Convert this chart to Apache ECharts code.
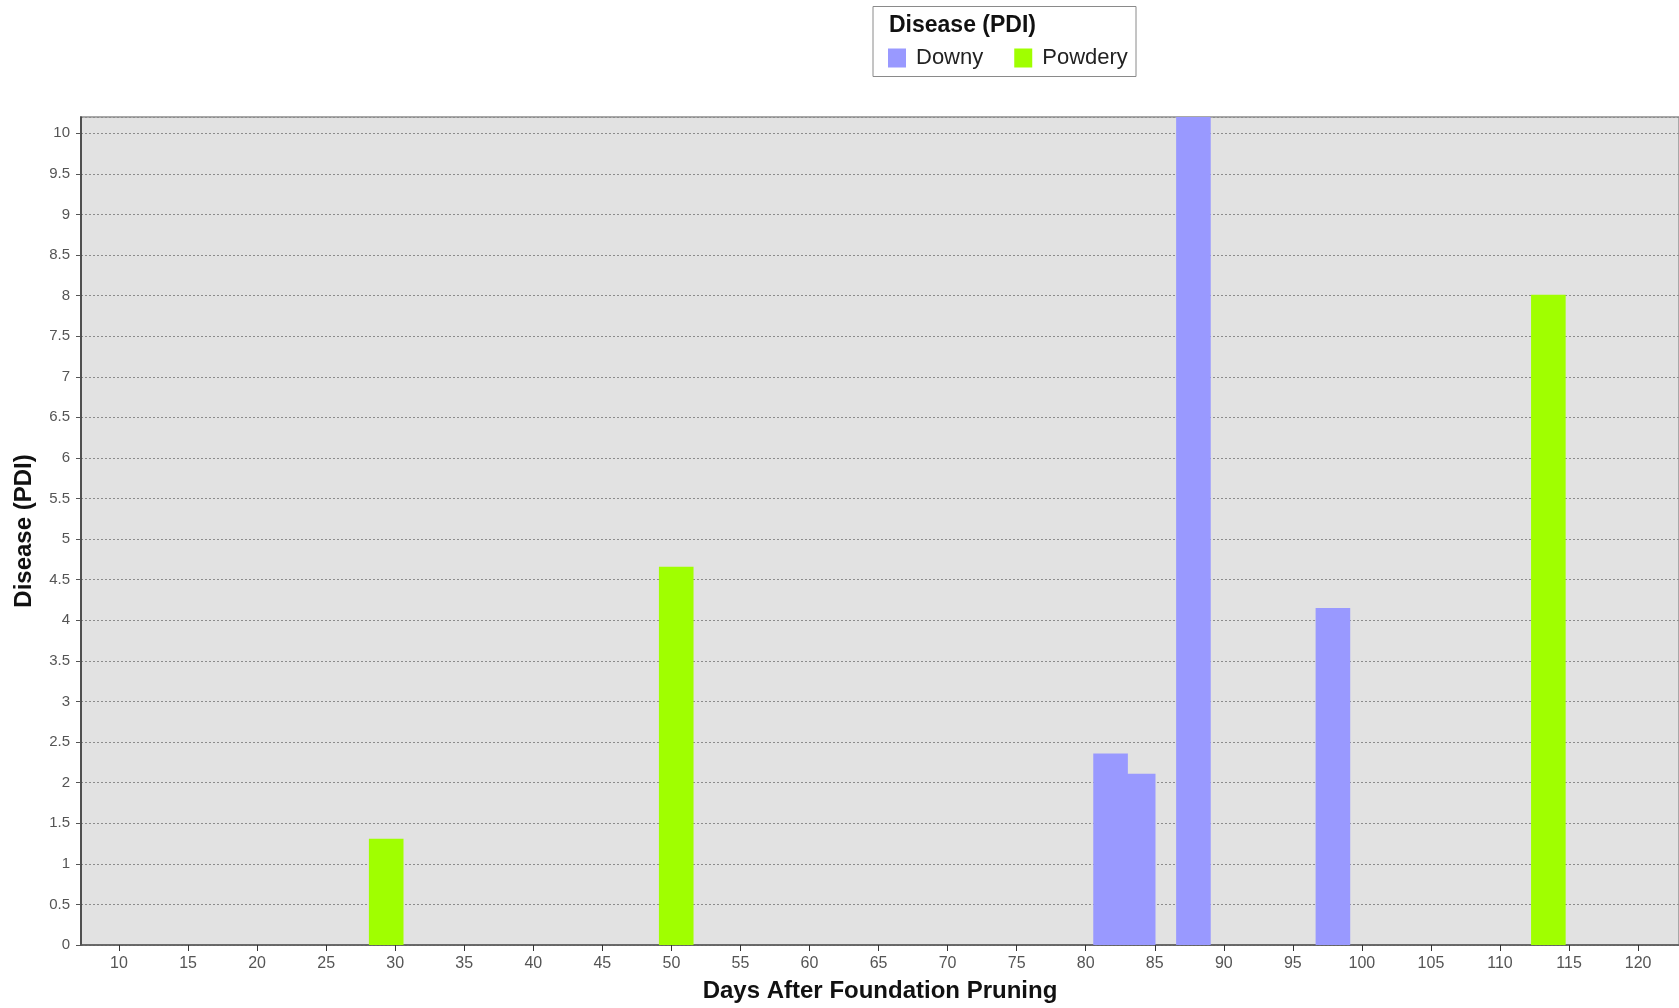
<!DOCTYPE html>
<html><head><meta charset="utf-8">
<script src="https://cdn.jsdelivr.net/npm/echarts@6/dist/echarts.min.js"></script>
<style>html,body{margin:0;padding:0;background:#fff}#c{width:1679px;height:1008px}</style>
</head><body><div id="c"></div>
<script>
// ---- data ----
const seriesNames = ['Downy', 'Powdery'];
const downyDays = [83.8, 81.8, 87.8, 97.9];
const downyPDI = [2.11, 2.36, 10.2, 4.15];
const powderyDays = [29.35, 50.35, 113.5];
const powderyPDI = [1.31, 4.66, 8.01];
const xTitle = 'Days After Foundation Pruning';
const yTitle = 'Disease (PDI)';
const legendTitle = 'Disease (PDI)';

const FONT = '"Liberation Sans", Arial, sans-serif';
const chart = echarts.init(document.getElementById('c'), null, {renderer: 'canvas'});
chart.setOption({
  animation: false,
  backgroundColor: '#ffffff',
  grid: {
    left: 81, top: 117, right: -3, bottom: 61.4,
    show: true, backgroundColor: '#e2e2e2', borderColor: '#a8a8a8', borderWidth: 2
  },
  graphic: [
    {type: 'rect', left: 872.5, top: 6, z: 0,
     shape: {width: 263, height: 70},
     style: {fill: '#ffffff', stroke: '#8a8a8a', lineWidth: 1}},
    {type: 'text', left: 889, top: 14, z: 10,
     style: {text: legendTitle, font: 'bold 23px ' + FONT, fill: '#111'}}
  ],
  legend: {
    left: 883, top: 42, orient: 'horizontal',
    itemWidth: 18, itemHeight: 19, itemGap: 31, icon: 'rect',
    data: seriesNames,
    textStyle: {fontFamily: FONT, fontSize: 22, color: '#222', padding: [0, 0, 0, 5]}
  },
  xAxis: {
    type: 'value', min: 7.25, max: 122.96,
    splitNumber: 23, minInterval: 5, maxInterval: 5,
    name: xTitle, nameLocation: 'middle', nameGap: 34,
    nameTextStyle: {fontFamily: FONT, fontSize: 24, fontWeight: 'bold', color: '#111'},
    axisLine: {show: true, onZero: false, lineStyle: {color: '#555', width: 1.5}},
    axisTick: {show: true, length: 6, lineStyle: {color: '#333'}},
    axisLabel: {showMinLabel: false, showMaxLabel: false, margin: 11,
      fontFamily: FONT, fontSize: 16, color: '#555'},
    splitLine: {show: false}
  },
  yAxis: {
    type: 'value', min: 0, max: 10.2,
    splitNumber: 20, minInterval: 0.5, maxInterval: 0.5,
    name: yTitle, nameLocation: 'middle', nameGap: 45,
    nameTextStyle: {fontFamily: FONT, fontSize: 24, fontWeight: 'bold', color: '#111'},
    axisLine: {show: true, lineStyle: {color: '#333', width: 1.5}},
    axisTick: {show: true, length: 5, lineStyle: {color: '#555'}},
    axisLabel: {showMaxLabel: false, margin: 11, fontFamily: FONT, fontSize: 15, color: '#555'},
    splitLine: {show: true, lineStyle: {color: '#8c8c8c', type: [2, 2], width: 1}}
  },
  series: [
    {name: seriesNames[0], type: 'bar', barWidth: 34.6, barGap: '-100%', clip: true,
     itemStyle: {color: '#9999ff'},
     data: downyDays.map((d, i) => [d, downyPDI[i]])},
    {name: seriesNames[1], type: 'bar', barWidth: 34.6, barGap: '-100%', clip: true,
     itemStyle: {color: '#a0ff00'},
     data: powderyDays.map((d, i) => [d, powderyPDI[i]])}
  ]
});
</script></body></html>
